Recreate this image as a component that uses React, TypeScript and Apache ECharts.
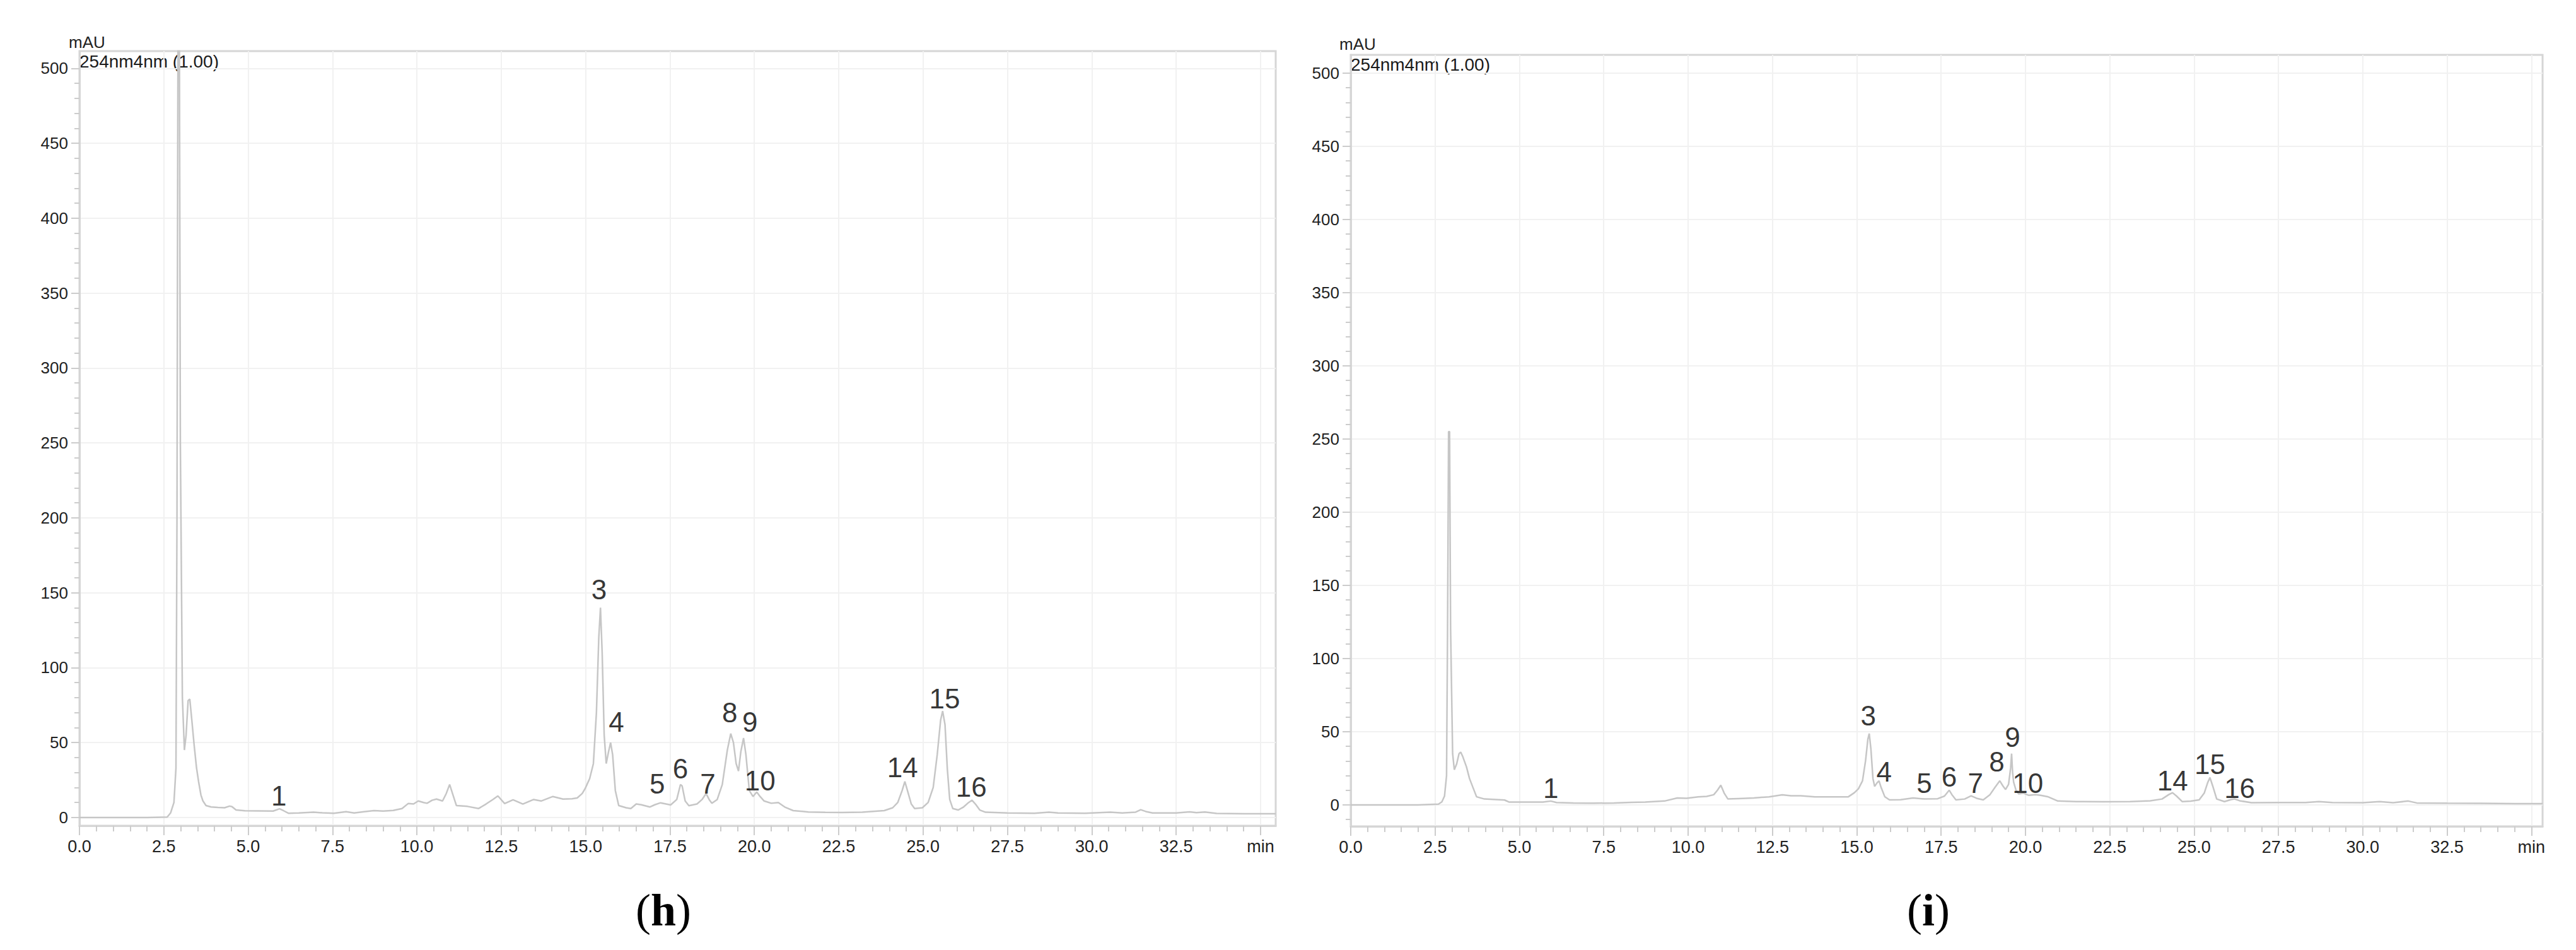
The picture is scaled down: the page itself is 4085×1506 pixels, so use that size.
import React, { useEffect, useRef } from 'react';
import * as echarts from 'echarts';

// ---------- (h) chromatogram ----------
const hTimes = [
  0.0, 1.0, 2.0, 2.6, 2.7, 2.8, 2.86, 2.89, 2.92, 2.96, 2.99, 3.05, 3.11, 3.16, 3.22, 3.27, 3.33, 3.40, 3.47, 3.53,
  3.60, 3.66, 3.75, 3.9, 4.1, 4.3, 4.45, 4.52, 4.64, 4.9, 5.3, 5.74, 5.93, 6.05, 6.2, 6.5, 6.94, 7.2, 7.54, 7.9,
  8.14, 8.4, 8.73, 9.0, 9.3, 9.56, 9.74, 9.9, 10.04, 10.2, 10.3, 10.45, 10.58, 10.76, 10.87, 10.97, 11.07, 11.17, 11.5, 11.83,
  12.05, 12.25, 12.4, 12.6, 12.85, 13.14, 13.46, 13.68, 14.03, 14.33, 14.6, 14.75, 14.9, 14.99, 15.12, 15.23, 15.32, 15.39, 15.44, 15.49,
  15.55, 15.61, 15.68, 15.74, 15.8, 15.88, 15.98, 16.2, 16.34, 16.5, 16.65, 16.9, 17.05, 17.22, 17.52, 17.7, 17.81, 17.86, 17.95, 18.06,
  18.3, 18.45, 18.57, 18.66, 18.74, 18.9, 19.05, 19.2, 19.3, 19.38, 19.46, 19.53, 19.6, 19.68, 19.75, 19.85, 19.96, 20.07, 20.17, 20.29,
  20.5, 20.71, 20.9, 21.15, 21.6, 22.1, 22.6, 23.2, 23.85, 24.1, 24.25, 24.38, 24.46, 24.55, 24.65, 24.75, 24.98, 25.15, 25.3, 25.42,
  25.52, 25.58, 25.65, 25.72, 25.79, 25.88, 26.04, 26.2, 26.35, 26.45, 26.55, 26.68, 26.85, 27.5, 28.3, 28.73, 29.0, 29.8, 30.55, 30.9,
  31.3, 31.45, 31.6, 31.8, 32.5, 32.9, 33.1, 33.35, 33.7, 34.5, 35.45,
];
const hValues = [
  0, 0, 0, 0.3, 3, 10, 33, 200, 530, 530, 250, 80, 45, 55, 78, 79, 65, 48, 33, 24,
  15, 11, 8, 7, 6.7, 6.5, 7.6, 7.2, 5, 4.5, 4.4, 4.3, 5.8, 4.5, 2.8, 3, 3.6, 3.1, 2.8, 3.9,
  3, 3.8, 4.6, 4.3, 4.7, 6, 9.3, 9, 11, 10, 9.5, 11.5, 12.3, 11, 16, 22, 15, 8, 7.4, 6,
  9, 12, 14.4, 9.3, 11.8, 9, 12, 11, 14, 12.3, 12.5, 13, 16, 19.5, 26, 36, 70, 120, 140, 110,
  55, 36, 44, 50, 42, 18, 8, 6.5, 6, 9, 8.5, 7, 8.5, 9.8, 8.4, 12, 22, 21, 11, 7.9,
  9, 12, 16, 12, 9.5, 12, 22, 45, 56, 50, 36, 31, 44, 53, 42, 18, 14, 17, 14, 11,
  9.5, 10, 7, 4.6, 3.7, 3.4, 3.3, 3.6, 4.6, 6.5, 10, 18, 24, 17, 9, 6, 6.5, 10, 20, 42,
  65, 71, 62, 32, 12, 6, 5, 7, 10, 11.5, 9, 5, 3.5, 3, 2.8, 3.6, 3, 2.8, 3.6, 3,
  3.6, 5.2, 4, 3, 3, 3.8, 3.2, 3.7, 2.7, 2.5, 2.5,
];
const hPeakIds = ['1', '3', '4', '5', '6', '7', '8', '9', '10', '14', '15', '16'];
const hPeakLabelTimes = [5.91, 15.4, 15.91, 17.12, 17.81, 18.62, 19.27, 19.87, 20.17, 24.39, 25.64, 26.43];
const hPeakLabelValues = [14.7, 152, 63.6, 22.7, 32.8, 22.7, 69.9, 63.6, 24.8, 33.3, 79.2, 20.2];

// ---------- (i) chromatogram ----------
const iTimes = [
  0.0, 1.0, 2.0, 2.6, 2.7, 2.78, 2.84, 2.87, 2.9, 2.93, 2.96, 3.02, 3.07, 3.14, 3.21, 3.26, 3.32, 3.43, 3.52, 3.61,
  3.73, 3.96, 4.3, 4.56, 4.69, 5.2, 5.7, 5.93, 6.1, 6.6, 7.18, 7.8, 8.3, 8.73, 9.3, 9.68, 9.95, 10.3, 10.55, 10.76,
  10.87, 10.97, 11.07, 11.18, 11.5, 11.95, 12.4, 12.79, 13.05, 13.34, 13.76, 14.3, 14.75, 14.93, 15.05, 15.17, 15.26, 15.33, 15.37, 15.42,
  15.48, 15.53, 15.6, 15.66, 15.72, 15.83, 15.97, 16.3, 16.67, 17.0, 17.4, 17.6, 17.74, 17.82, 17.94, 18.2, 18.39, 18.55, 18.75, 18.95,
  19.1, 19.24, 19.33, 19.41, 19.5, 19.56, 19.59, 19.62, 19.65, 19.72, 19.8, 19.94, 20.1, 20.3, 20.45, 20.66, 20.96, 21.5, 22.3, 23.1,
  23.7, 24.05, 24.25, 24.36, 24.48, 24.65, 24.9, 25.15, 25.3, 25.4, 25.47, 25.55, 25.67, 25.9, 26.1, 26.2, 26.35, 26.7, 27.5, 28.3,
  28.7, 29.1, 30.0, 30.5, 30.9, 31.35, 31.6, 32.5, 33.5, 34.5, 35.33,
];
const iValues = [
  0, 0, 0, 0.5, 2, 6, 20, 120, 255, 255, 120, 35, 24, 28, 35, 36, 33, 26, 18, 12.6,
  5.5, 4, 3.6, 3.3, 1.9, 1.9, 1.9, 2.6, 1.6, 1.3, 1.1, 1.3, 1.7, 1.9, 2.6, 4.7, 4.5, 5.5, 5.8, 6.9,
  10, 13.4, 8, 4, 4.3, 4.7, 5.5, 6.9, 6.2, 6.2, 5.5, 5.4, 5.5, 8.3, 11, 16.4, 30, 45, 48.7, 38,
  18, 12.6, 15, 16.4, 12, 5.6, 3.4, 3.5, 4.7, 4, 4.2, 6, 10, 7, 3.4, 4, 6.2, 4.5, 3.4, 7,
  12, 16.4, 13, 10.5, 14, 25, 35, 22, 15.5, 10, 7.5, 8, 6.5, 7, 6.5, 5.6, 2.6, 2.2, 2.1, 2.2,
  2.8, 4, 7, 8.3, 6, 2.2, 2.5, 3.4, 8, 15, 18.7, 13, 4, 2.2, 3.6, 4, 2.8, 1.5, 1.6, 1.6,
  2.2, 1.6, 1.5, 2.2, 1.5, 2.6, 1.3, 1.1, 1, 0.8, 0.8,
];
const iPeakIds = ['1', '3', '4', '5', '6', '7', '8', '9', '10', '14', '15', '16'];
const iPeakLabelTimes = [5.93, 15.34, 15.81, 17.0, 17.74, 18.52, 19.15, 19.62, 20.07, 24.36, 25.47, 26.35];
const iPeakLabelValues = [11.2, 60.8, 22.8, 14.8, 19.1, 14.8, 29.3, 46.5, 14.8, 16.4, 27.7, 11.2];

// ---------- axes ----------
const xMajorTicks = [0, 2.5, 5, 7.5, 10, 12.5, 15, 17.5, 20, 22.5, 25, 27.5, 30, 32.5, 35];
const xTickLabels = ['0.0', '2.5', '5.0', '7.5', '10.0', '12.5', '15.0', '17.5', '20.0', '22.5', '25.0', '27.5', '30.0', '32.5', 'min'];
const yMajorTicks = [0, 50, 100, 150, 200, 250, 300, 350, 400, 450, 500];
const yTickLabels = ['0', '50', '100', '150', '200', '250', '300', '350', '400', '450', '500'];
const xMinorTicks = Array.from({ length: 71 }, (_, k) => k * 0.5);
const yMinorTicksH = Array.from({ length: 51 }, (_, k) => k * 10);
const yMinorTicksI = Array.from({ length: 52 }, (_, k) => -10 + k * 10);

const yAxisLabel = 'mAU';
const channelLabel = '254nm4nm (1.00)';

const SANS = '"Liberation Sans", Arial, Helvetica, sans-serif';
const SERIF = '"Liberation Serif", "Times New Roman", serif';
const TRACE = '#c6c6c6';
const FRAME = '#d6d6d6';
const TICK = '#cccccc';
const GRIDLINE = '#f1f1f1';

function labelFor(v: number, ticks: number[], labels: string[]) {
  for (let k = 0; k < ticks.length; k++) if (Math.abs(ticks[k] - v) < 1e-6) return labels[k];
  return '';
}

function xAxes(gridIndex: number, max: number) {
  return [
    {
      type: 'value', gridIndex, min: 0, max, position: 'bottom', offset: 0,
      axisLine: { show: true, onZero: false, lineStyle: { color: FRAME, width: 3 } },
      axisTick: { show: true, customValues: xMajorTicks, length: 15, lineStyle: { color: TICK, width: 2 } },
      axisLabel: {
        show: true, customValues: xMajorTicks, fontSize: 27, color: '#222', margin: 19, fontFamily: SANS,
        formatter: (v: number) => labelFor(v, xMajorTicks, xTickLabels),
      },
      splitLine: { show: true, lineStyle: { color: GRIDLINE, width: 2 } },
    },
    {
      type: 'value', gridIndex, min: 0, max, position: 'bottom', offset: 0,
      axisLine: { show: false, onZero: false },
      axisTick: { show: true, customValues: xMinorTicks, length: 9, lineStyle: { color: TICK, width: 2 } },
      axisLabel: { show: false },
      splitLine: { show: false },
    },
  ];
}

function yAxes(gridIndex: number, min: number, max: number, minor: number[]) {
  return [
    {
      type: 'value', gridIndex, min, max, position: 'left', offset: 0,
      axisLine: { show: true, onZero: false, lineStyle: { color: FRAME, width: 3 } },
      axisTick: { show: true, customValues: yMajorTicks, length: 13, lineStyle: { color: TICK, width: 2 } },
      axisLabel: {
        show: true, customValues: yMajorTicks, fontSize: 26, color: '#222', margin: 18, fontFamily: SANS,
        formatter: (v: number) => labelFor(v, yMajorTicks, yTickLabels),
      },
      splitLine: { show: true, lineStyle: { color: GRIDLINE, width: 2 } },
    },
    {
      type: 'value', gridIndex, min, max, position: 'left', offset: 0,
      axisLine: { show: false, onZero: false },
      axisTick: { show: true, customValues: minor, length: 8, lineStyle: { color: TICK, width: 2 } },
      axisLabel: { show: false },
      splitLine: { show: false },
    },
  ];
}

function traceSeries(axisIdx: number, times: number[], values: number[]) {
  return {
    type: 'line', xAxisIndex: axisIdx, yAxisIndex: axisIdx,
    data: times.map((t, k) => [t, values[k]]),
    showSymbol: false, symbol: 'none', clip: true, silent: true,
    lineStyle: { color: TRACE, width: 2.5 },
    z: 3,
  };
}

function peakLabelSeries(axisIdx: number, ids: string[], times: number[], values: number[]) {
  return {
    type: 'scatter', xAxisIndex: axisIdx, yAxisIndex: axisIdx, symbolSize: 0, silent: true,
    data: ids.map((id, k) => ({ name: id, value: [times[k], values[k]] })),
    label: {
      show: true, position: 'inside', formatter: '{b}', fontSize: 44, color: '#000', fontFamily: SANS,
    },
    z: 5,
  };
}

export default function App() {
  const ref = useRef<HTMLDivElement>(null);
  useEffect(() => {
    if (!ref.current) return;
    const chart = echarts.init(ref.current, undefined, { renderer: 'svg' });
    const option: any = {
      animation: false,
      backgroundColor: '#ffffff',
      grid: [
        { left: 126, top: 81, width: 1897, height: 1228, show: true, borderColor: FRAME, borderWidth: 3, containLabel: false, outerBoundsMode: 'none' },
        { left: 2142, top: 87, width: 1890, height: 1223, show: true, borderColor: FRAME, borderWidth: 3, containLabel: false, outerBoundsMode: 'none' },
      ],
      xAxis: [...xAxes(0, 35.45), ...xAxes(1, 35.33)],
      yAxis: [...yAxes(0, -5.5, 511.5, yMinorTicksH), ...yAxes(1, -14.7, 512.5, yMinorTicksI)],
      series: [
        traceSeries(0, hTimes, hValues),
        peakLabelSeries(0, hPeakIds, hPeakLabelTimes, hPeakLabelValues),
        traceSeries(2, iTimes, iValues),
        peakLabelSeries(2, iPeakIds, iPeakLabelTimes, iPeakLabelValues),
      ],
      graphic: [
        { type: 'text', style: { text: yAxisLabel, x: 109, y: 67, font: `26px ${SANS}`, fill: '#222', textVerticalAlign: 'middle', verticalAlign: 'middle' } },
        { type: 'text', style: { text: channelLabel, x: 126, y: 97, font: `28px ${SANS}`, fill: '#1a1a1a', textVerticalAlign: 'middle', verticalAlign: 'middle' } },
        { type: 'text', style: { text: yAxisLabel, x: 2124, y: 70, font: `26px ${SANS}`, fill: '#222', textVerticalAlign: 'middle', verticalAlign: 'middle' } },
        { type: 'text', style: { text: channelLabel, x: 2142, y: 102, font: `28px ${SANS}`, fill: '#1a1a1a', textVerticalAlign: 'middle', verticalAlign: 'middle' } },
        {
          type: 'text',
          style: {
            text: '{p|(}{b|h}{p|)}', x: 1052, y: 1443, textAlign: 'center', align: 'center', textVerticalAlign: 'middle', verticalAlign: 'middle',
            rich: { p: { fontSize: 72, fontFamily: SERIF, fill: '#000', color: '#000' }, b: { fontSize: 72, fontFamily: SERIF, fontWeight: 'bold', fill: '#000', color: '#000' } },
          },
        },
        {
          type: 'text',
          style: {
            text: '{p|(}{b|i}{p|)}', x: 3058, y: 1443, textAlign: 'center', align: 'center', textVerticalAlign: 'middle', verticalAlign: 'middle',
            rich: { p: { fontSize: 72, fontFamily: SERIF, fill: '#000', color: '#000' }, b: { fontSize: 72, fontFamily: SERIF, fontWeight: 'bold', fill: '#000', color: '#000' } },
          },
        },
      ],
    };
    chart.setOption(option);
    return () => chart.dispose();
  }, []);
  return <div ref={ref} style={{ position: 'absolute', left: 0, top: 0, width: 4085, height: 1506, background: '#fff' }} />;
}
